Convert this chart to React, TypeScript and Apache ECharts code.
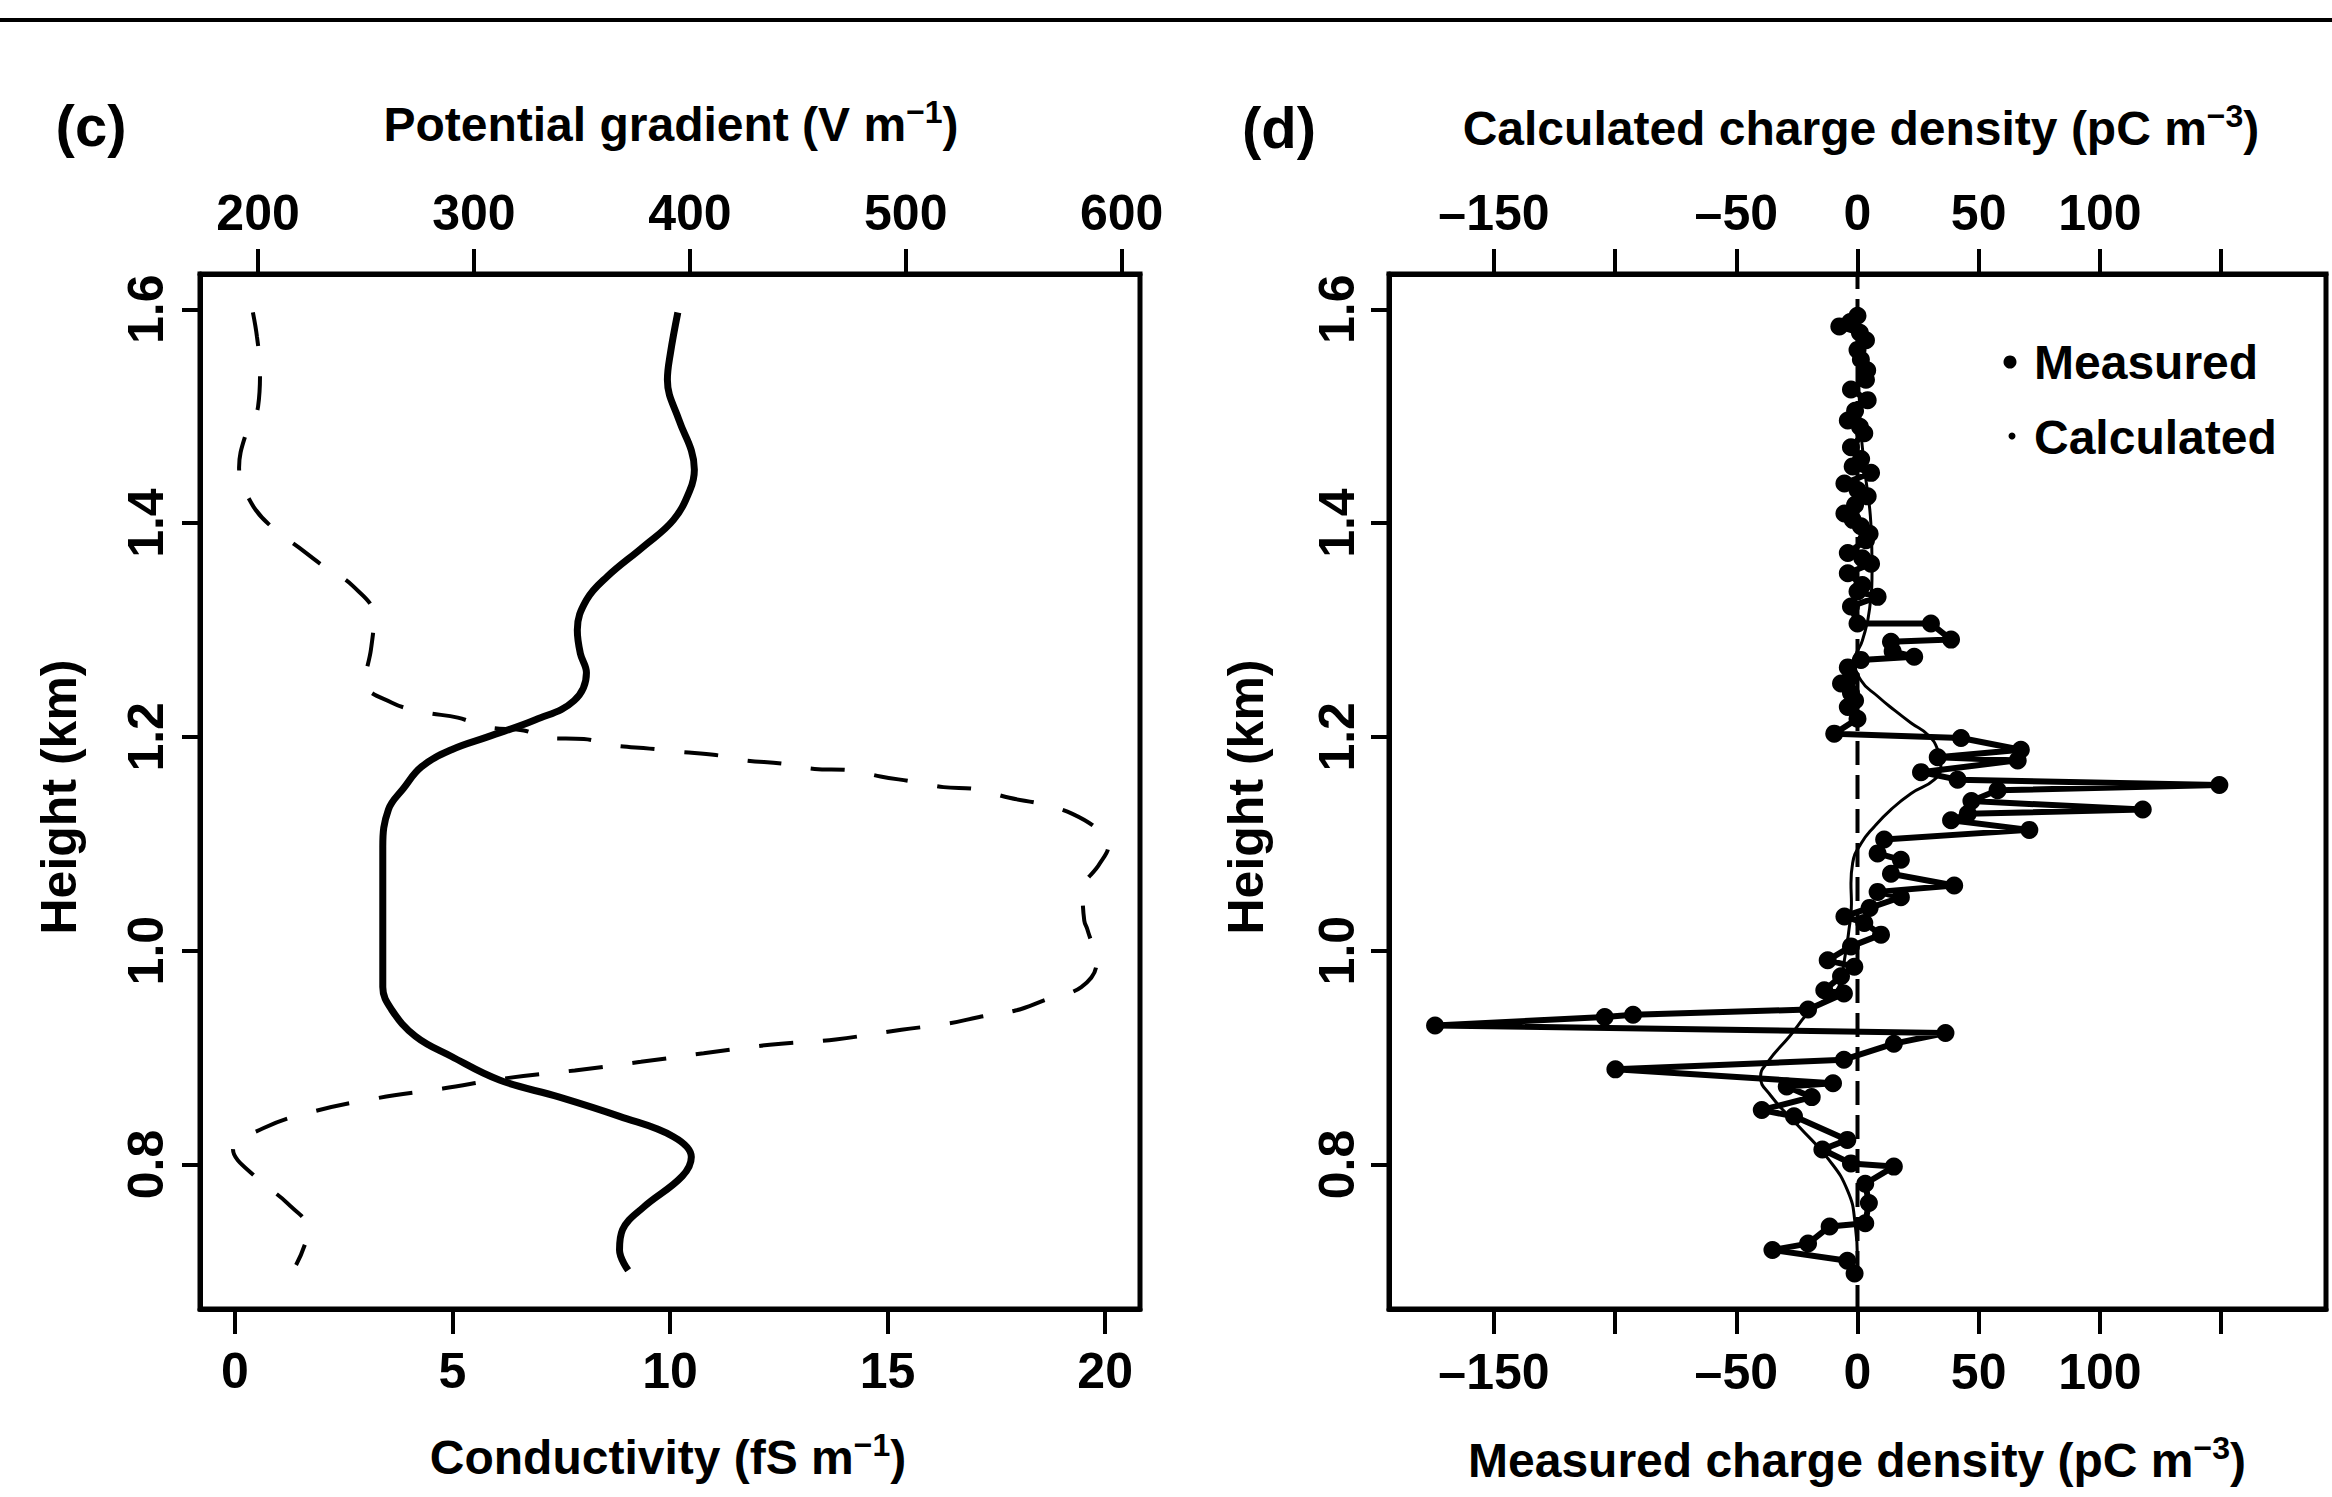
import React, { useEffect, useRef } from "react";
import * as echarts from "echarts";

// ---------- Panel (c) data ----------
const condHeights = [1.597, 1.559, 1.534, 1.496, 1.468, 1.45, 1.431, 1.403, 1.378, 1.35, 1.328, 1.3, 1.278, 1.26, 1.234, 1.216, 1.2, 1.188, 1.172, 1.152, 1.132, 1.097, 1.03, 0.966, 0.945, 0.92, 0.901, 0.879, 0.863, 0.845, 0.826, 0.807, 0.789, 0.76, 0.739, 0.72, 0.701];
const conductivity = [10.18, 10.01, 9.94, 10.21, 10.49, 10.56, 10.46, 10.08, 9.39, 8.56, 8.08, 7.87, 7.94, 8.08, 7.8, 6.91, 5.81, 4.98, 4.29, 3.88, 3.53, 3.4, 3.4, 3.4, 3.6, 4.15, 4.98, 6.08, 7.46, 8.84, 10.08, 10.49, 10.28, 9.39, 8.91, 8.84, 9.04];

const pgHeights = [1.597, 1.574, 1.543, 1.509, 1.481, 1.452, 1.419, 1.396, 1.377, 1.36, 1.341, 1.313, 1.282, 1.251, 1.232, 1.223, 1.218, 1.209, 1.206, 1.199, 1.198, 1.192, 1.189, 1.186, 1.183, 1.178, 1.175, 1.17, 1.169, 1.163, 1.158, 1.153, 1.151, 1.143, 1.137, 1.128, 1.112, 1.098, 1.081, 1.056, 1.028, 1.02, 0.988, 0.966, 0.954, 0.944, 0.938, 0.932, 0.926, 0.917, 0.912, 0.904, 0.896, 0.888, 0.881, 0.871, 0.862, 0.849, 0.835, 0.814, 0.787, 0.764, 0.739, 0.706];
const potentialGradient = [197.6, 199.5, 200.9, 200.0, 194.0, 191.2, 196.8, 206.5, 219.0, 230.1, 244.0, 253.7, 252.3, 249.5, 262.0, 277.3, 292.5, 306.4, 323.1, 334.2, 350.9, 364.8, 381.4, 395.3, 412.0, 425.8, 442.5, 457.8, 473.0, 488.3, 503.6, 517.5, 532.7, 548.0, 563.3, 577.2, 589.7, 593.8, 589.7, 581.9, 582.7, 584.1, 588.3, 581.3, 564.7, 550.8, 534.1, 520.2, 498.0, 467.5, 437.0, 406.4, 377.3, 346.7, 316.1, 285.6, 255.1, 224.5, 203.7, 188.4, 199.5, 213.4, 223.1, 217.6];

// ---------- Panel (d) data ----------
const measHeights = [1.594, 1.588, 1.584, 1.578, 1.571, 1.562, 1.553, 1.543, 1.534, 1.525, 1.515, 1.505, 1.496, 1.49, 1.484, 1.471, 1.46, 1.453, 1.447, 1.437, 1.431, 1.425, 1.417, 1.409, 1.403, 1.397, 1.39, 1.384, 1.372, 1.367, 1.362, 1.353, 1.342, 1.336, 1.331, 1.322, 1.306, 1.306, 1.291, 1.289, 1.28, 1.275, 1.272, 1.265, 1.256, 1.25, 1.241, 1.234, 1.228, 1.217, 1.203, 1.199, 1.188, 1.181, 1.178, 1.167, 1.16, 1.155, 1.15, 1.14, 1.132, 1.128, 1.122, 1.113, 1.104, 1.091, 1.085, 1.072, 1.061, 1.055, 1.05, 1.04, 1.032, 1.026, 1.015, 1.004, 0.991, 0.985, 0.976, 0.963, 0.96, 0.945, 0.94, 0.938, 0.93, 0.923, 0.913, 0.898, 0.889, 0.876, 0.873, 0.863, 0.851, 0.845, 0.823, 0.814, 0.801, 0.798, 0.782, 0.764, 0.745, 0.742, 0.726, 0.72, 0.71, 0.698];
const measuredDensity = [0, -3, -7.5, 1, 3.5, 0, 1.4, 4, 3.5, -2.7, 4.2, -1, -4, 1, 2.8, -2.7, 1.5, -2, 5.6, -5.4, 0, 4.2, -1, -5.4, -2, 1.4, 5, 3.5, -4, 2, 5.6, -4, 2, 0, 8.3, -2.7, 0, 30.3, 38.6, 13.8, 14.5, 23.4, 1.4, -4, -2.7, -6.8, -2.7, -1, -4, 0, -9.6, 42.7, 67.4, 33.1, 66.1, 26.2, 41.3, 149.3, 57.8, 47, 117.7, 45.5, 38.6, 70.9, 11, 8.3, 17.9, 13.8, 39.9, 8.3, 17.9, 5, -5.4, 2.8, 9.7, -2.7, -12.3, -1.3, -6.8, -13.7, -5.6, -20.4, -92.6, -104.3, -174.3, 36.3, 15, -5.6, -99.9, -10.1, -29.2, -18.9, -39.5, -26.2, -4.2, -14.5, -2.7, 15, 3.2, 4.7, 3.2, -11.5, -20.4, -35.1, -4.2, -1.2];

const calcHeights = [1.594, 1.5, 1.45, 1.4, 1.36, 1.32, 1.29, 1.272, 1.253, 1.238, 1.225, 1.213, 1.202, 1.188, 1.172, 1.16, 1.147, 1.132, 1.116, 1.1, 1.082, 1.063, 1.044, 1.02, 0.99, 0.965, 0.945, 0.92, 0.896, 0.882, 0.865, 0.835, 0.805, 0.775, 0.745, 0.71];
const calculatedDensity = [0, 1, 3, 5.5, 6, 5, 2, -1, 1.4, 8.3, 15.2, 22.1, 29.0, 33.1, 34.4, 31.7, 22.1, 13.8, 6.9, 1.4, -2, -2.7, -2.5, -3.5, -5.5, -8, -19, -28, -37, -40, -36, -24, -12, -4, -1, 0];

// ---------- Axes ----------
const heightTicks = [0.8, 1.0, 1.2, 1.4, 1.6];
const heightMin = 0.6648;
const heightMax = 1.633;
const condTicks = [0, 5, 10, 15, 20];
const pgTicks = [200, 300, 400, 500, 600];
const chargeTicks = [-150, -100, -50, 0, 50, 100, 150];
const chargeLabels = [-150, -50, 0, 50, 100];
const zeroLineHeights = [heightMin, heightMax];

const FONT = "'Liberation Sans', Arial, Helvetica, sans-serif";

function pairs(xs: number[], ys: number[]) {
  return xs.map((x, i) => [x, ys[i]]);
}

function fmtMinus(v: number) {
  return v < 0 ? "\u2013" + Math.abs(v) : String(v);
}

export default function App() {
  const ref = useRef<HTMLDivElement>(null);

  useEffect(() => {
    if (!ref.current) return;
    const chart = echarts.init(ref.current, undefined, { renderer: "svg" });

    const tickLabel = {
      color: "#000",
      fontFamily: FONT,
      fontWeight: "bold" as const,
      fontSize: 50,
    };

    const xBase = (gridIndex: number, position: string, min: number, max: number, ticks: number[], labels: number[], margin: number, fmt: (v: number) => string) => ({
      type: "value",
      gridIndex,
      position,
      min,
      max,
      splitLine: { show: false },
      axisLine: { show: true, onZero: false, lineStyle: { color: "#000", width: 5 } },
      axisTick: { show: true, length: 25, customValues: ticks, lineStyle: { color: "#000", width: 4 } },
      axisLabel: { ...tickLabel, margin, customValues: labels, formatter: fmt, showMinLabel: true, showMaxLabel: true },
    });

    const yBase = (gridIndex: number, margin: number) => ({
      type: "value",
      gridIndex,
      min: heightMin,
      max: heightMax,
      splitLine: { show: false },
      axisLine: { show: true, onZero: false, lineStyle: { color: "#000", width: 5 } },
      axisTick: { show: true, length: 18, customValues: heightTicks, lineStyle: { color: "#000", width: 4 } },
      axisLabel: { ...tickLabel, margin, rotate: 90, customValues: heightTicks, formatter: (v: number) => v.toFixed(1) },
    });

    const rich = (size: number) => ({
      a: { fontSize: size, fontFamily: FONT, fontWeight: "bold", fill: "#000", color: "#000", lineHeight: size + 8 },
      s: { fontSize: Math.round(size * 0.66), fontFamily: FONT, fontWeight: "bold", fill: "#000", color: "#000", verticalAlign: "top", lineHeight: Math.round(size * 0.66) },
    });

    const textEl = (x: number, y: number, text: string, size: number, opts: any = {}) => ({
      type: "text",
      x,
      y,
      rotation: opts.rotation || 0,
      style: {
        text,
        fill: "#000",
        font: `bold ${size}px ${FONT}`,
        fontSize: size,
        fontWeight: "bold",
        fontFamily: FONT,
        align: opts.align || "center",
        textAlign: opts.align || "center",
        verticalAlign: "middle",
        textVerticalAlign: "middle",
        rich: opts.rich,
      },
    });

    const option: any = {
      animation: false,
      backgroundColor: "#fff",
      grid: [
        { left: 200, top: 274, width: 940, height: 1035, show: true, borderColor: "#000", borderWidth: 5, backgroundColor: "transparent" },
        { left: 1389, top: 274, width: 937, height: 1035, show: true, borderColor: "#000", borderWidth: 5, backgroundColor: "transparent" },
      ],
      xAxis: [
        xBase(0, "bottom", -0.8, 20.8, condTicks, condTicks, 37, (v: number) => String(v)),
        xBase(0, "top", 173.1, 608.5, pgTicks, pgTicks, 36, (v: number) => String(v)),
        xBase(1, "bottom", -193.3, 193.3, chargeTicks, chargeLabels, 38, fmtMinus),
        xBase(1, "top", -193.3, 193.3, chargeTicks, chargeLabels, 36, fmtMinus),
      ],
      yAxis: [yBase(0, 29), yBase(1, 27)],
      series: [
        {
          name: "Conductivity",
          type: "line",
          xAxisIndex: 0,
          yAxisIndex: 0,
          data: pairs(conductivity, condHeights),
          showSymbol: false,
          symbol: "none",
          smooth: 0.4,
          lineStyle: { color: "#000", width: 7 },
        },
        {
          name: "Potential gradient",
          type: "line",
          xAxisIndex: 1,
          yAxisIndex: 0,
          data: pairs(potentialGradient, pgHeights),
          showSymbol: false,
          symbol: "none",
          smooth: 0.4,
          lineStyle: { color: "#000", width: 4, type: [34, 30] },
        },
        {
          name: "Zero",
          type: "line",
          xAxisIndex: 2,
          yAxisIndex: 1,
          data: pairs([0, 0], zeroLineHeights),
          showSymbol: false,
          symbol: "none",
          lineStyle: { color: "#000", width: 4, type: [24, 10] },
        },
        {
          name: "Calculated",
          type: "line",
          xAxisIndex: 3,
          yAxisIndex: 1,
          data: pairs(calculatedDensity, calcHeights),
          showSymbol: false,
          symbol: "none",
          smooth: 0.5,
          lineStyle: { color: "#000", width: 3 },
        },
        {
          name: "Measured",
          type: "line",
          xAxisIndex: 2,
          yAxisIndex: 1,
          data: pairs(measuredDensity, measHeights),
          symbol: "circle",
          symbolSize: 18,
          showSymbol: true,
          itemStyle: { color: "#000" },
          lineStyle: { color: "#000", width: 6 },
        },
      ],
      graphic: [
        { type: "line", shape: { x1: 0, y1: 20, x2: 2332, y2: 20 }, style: { stroke: "#000", lineWidth: 4 } },
        textEl(91, 125, "(c)", 58),
        textEl(1279, 127, "(d)", 58),
        textEl(671, 124, "{a|Potential gradient (V m}{s|\u22121}{a|)}", 48, { rich: rich(48) }),
        textEl(1861, 128, "{a|Calculated charge density (pC m}{s|\u22123}{a|)}", 48, { rich: rich(48) }),
        textEl(668, 1457, "{a|Conductivity (fS m}{s|\u22121}{a|)}", 48, { rich: rich(48) }),
        textEl(1857, 1460, "{a|Measured charge density (pC m}{s|\u22123}{a|)}", 48, { rich: rich(48) }),
        textEl(59, 797, "Height (km)", 50, { rotation: Math.PI / 2 }),
        textEl(1246, 797, "Height (km)", 50, { rotation: Math.PI / 2 }),
        { type: "circle", shape: { cx: 2010, cy: 362, r: 6.5 }, style: { fill: "#000" } },
        textEl(2034, 362, "Measured", 48, { align: "left" }),
        { type: "circle", shape: { cx: 2012, cy: 436, r: 3.5 }, style: { fill: "#000" } },
        textEl(2034, 437, "Calculated", 48, { align: "left" }),
      ],
    };

    chart.setOption(option);
    return () => chart.dispose();
  }, []);

  return (
    <div
      ref={ref}
      style={{ position: "fixed", left: 0, top: 0, width: 2332, height: 1497, background: "#fff" }}
    />
  );
}
